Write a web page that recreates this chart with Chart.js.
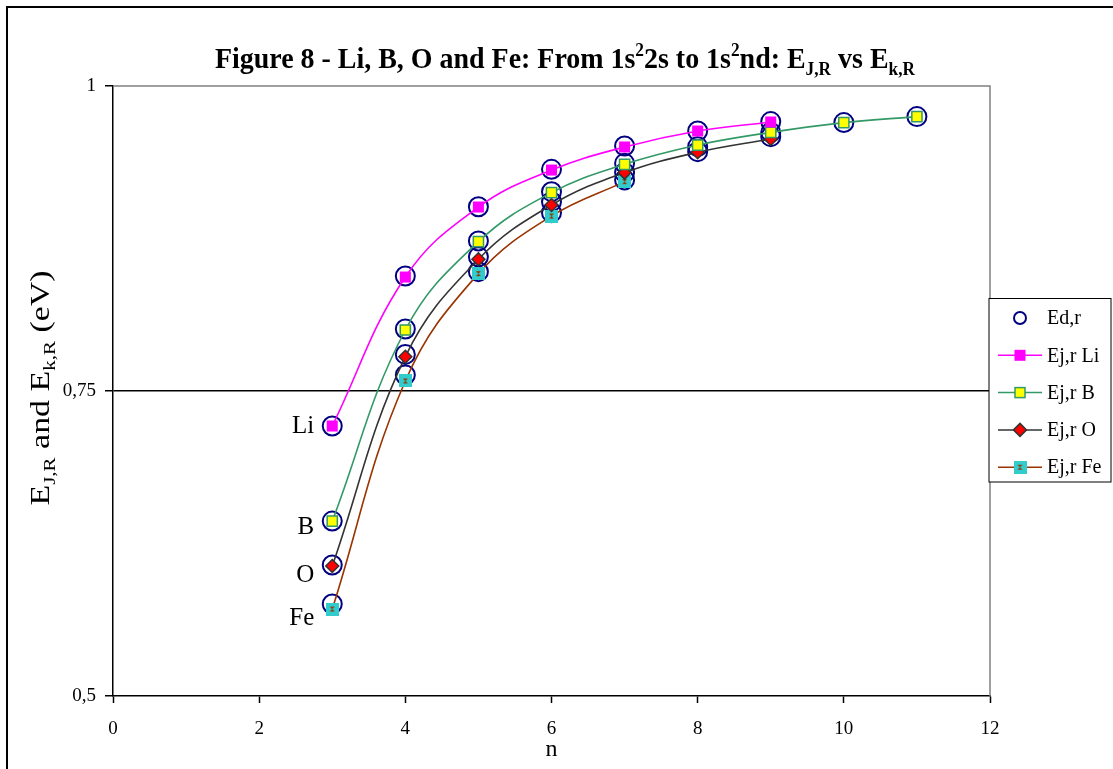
<!DOCTYPE html>
<html>
<head>
<meta charset="utf-8">
<script src="https://cdn.jsdelivr.net/npm/chart.js@4.4.0/dist/chart.umd.min.js"></script>
<style>
  html, body { margin: 0; padding: 0; background: #fff; }
</style>
</head>
<body>
<canvas id="chart" width="1113" height="769"></canvas>
<script>
// values
const elements = ['Li', 'B', 'O', 'Fe'];

const nLi = [3, 4, 5, 6, 7, 8, 9];
const ejLi = [0.7213, 0.8434, 0.9008, 0.9311, 0.9500, 0.9631, 0.9705];

const nB = [3, 4, 5, 6, 7, 8, 9, 10, 11];
const ejB = [0.6434, 0.8000, 0.8724, 0.9126, 0.9358, 0.9516, 0.9620, 0.9700, 0.9749];

const nO = [3, 4, 5, 6, 7, 8, 9];
const ejO = [0.6066, 0.7781, 0.8580, 0.9025, 0.9290, 0.9457, 0.9566];

const nFe = [3, 4, 5, 6, 7];
const ejFe = [0.5713, 0.7582, 0.8462, 0.8934, 0.9216];

// Ed,r (open circles)
const nEd = [3, 3, 3, 3, 4, 4, 4, 4, 5, 5, 5, 5, 6, 6, 6, 6, 7, 7, 7, 7, 8, 8, 8, 9, 9, 9, 10, 11];
const edVal = [0.7213, 0.6434, 0.6074, 0.5754,
               0.8443, 0.8008, 0.7800, 0.7631,
               0.9010, 0.8730, 0.8600, 0.8478,
               0.9317, 0.9134, 0.9052, 0.8962,
               0.9508, 0.9366, 0.9290, 0.9230,
               0.9631, 0.9503, 0.9462,
               0.9708, 0.9620, 0.9585,
               0.9700, 0.9749];

const xTicks = [0, 2, 4, 6, 8, 10, 12];
const yTicks = [0.5, 0.75, 1];

const FONT = '"Liberation Serif", "Times New Roman", serif';
Chart.defaults.font.family = FONT;
Chart.defaults.color = '#000';

function pts(xs, ys) {
    return xs.map((x, i) => ({ x: x, y: ys[i] }));
}

// Fe marker: cyan square with a small brown hourglass
function feMarker() {
    const c = document.createElement('canvas');
    c.width = 13; c.height = 13;
    const g = c.getContext('2d');
    g.fillStyle = '#33CCCC';
    g.fillRect(0, 0, 13, 13);
    g.fillStyle = '#993300';
    g.beginPath();
    g.moveTo(4, 4); g.lineTo(9, 4); g.lineTo(4, 9); g.lineTo(9, 9); g.closePath();
    g.fill();
    return c;
}
const feImg = feMarker();

// text with sub/superscripts
function richWidth(ctx, parts, size, weight) {
    let w = 0;
    parts.forEach(p => {
        ctx.font = `${weight} ${p.s ? size * 0.62 : size}px ${FONT}`;
        w += ctx.measureText(p.t).width;
    });
    return w;
}
function drawRich(ctx, parts, x, y, size, weight) {
    let cx = x;
    parts.forEach(p => {
        ctx.font = `${weight} ${p.s ? size * 0.62 : size}px ${FONT}`;
        const dy = p.s === 'sub' ? size * 0.22 : p.s === 'sup' ? -size * 0.4 : 0;
        ctx.fillText(p.t, cx, y + dy);
        cx += ctx.measureText(p.t).width;
    });
}

const titleParts = [
    { t: 'Figure 8 - Li, B, O and Fe: From 1s' }, { t: '2', s: 'sup' },
    { t: '2s to 1s' }, { t: '2', s: 'sup' }, { t: 'nd: E' }, { t: 'J,R', s: 'sub' },
    { t: ' vs E' }, { t: 'k,R', s: 'sub' }
];
const yTitleParts = [
    { t: 'E' }, { t: 'J,R', s: 'sub' }, { t: ' and E' }, { t: 'k,R', s: 'sub' }, { t: ' (eV)' }
];

const legendItems = [
    { label: 'Ed,r', kind: 'ed' },
    { label: 'Ej,r Li', kind: 'li', line: '#FF00FF' },
    { label: 'Ej,r B', kind: 'b', line: '#339966' },
    { label: 'Ej,r O', kind: 'o', line: '#333333' },
    { label: 'Ej,r Fe', kind: 'fe', line: '#993300' }
];

function drawMarker(ctx, kind, x, y) {
    ctx.save();
    if (kind === 'ed') {
        ctx.strokeStyle = '#000080'; ctx.lineWidth = 2;
        ctx.beginPath(); ctx.arc(x, y, 6, 0, Math.PI * 2); ctx.stroke();
    } else if (kind === 'li') {
        ctx.fillStyle = '#FF00FF'; ctx.fillRect(x - 5.5, y - 5.5, 11, 11);
    } else if (kind === 'b') {
        ctx.fillStyle = '#FFFF00'; ctx.strokeStyle = '#339966'; ctx.lineWidth = 1.5;
        ctx.fillRect(x - 5, y - 5, 10, 10); ctx.strokeRect(x - 5, y - 5, 10, 10);
    } else if (kind === 'o') {
        ctx.fillStyle = '#FF0000'; ctx.strokeStyle = '#333333'; ctx.lineWidth = 1.5;
        ctx.beginPath();
        ctx.moveTo(x - 6.5, y); ctx.lineTo(x, y - 6.5); ctx.lineTo(x + 6.5, y); ctx.lineTo(x, y + 6.5);
        ctx.closePath(); ctx.fill(); ctx.stroke();
    } else if (kind === 'fe') {
        ctx.drawImage(feImg, x - 6.5, y - 6.5);
    }
    ctx.restore();
}

const decorations = {
    id: 'decorations',
    afterDraw(chart) {
        const ctx = chart.ctx;
        const a = chart.chartArea;
        const xs = chart.scales.x, ys = chart.scales.y;
        ctx.save();

        // outer frame
        ctx.strokeStyle = '#000'; ctx.lineWidth = 2;
        ctx.strokeRect(7, 7, 1120, 780);

        // plot area border, top and right
        ctx.strokeStyle = '#808080'; ctx.lineWidth = 1.5;
        ctx.beginPath();
        ctx.moveTo(a.left, a.top); ctx.lineTo(a.right, a.top); ctx.lineTo(a.right, a.bottom);
        ctx.stroke();

        ctx.fillStyle = '#000';
        ctx.textBaseline = 'alphabetic';

        // title, condensed to the original width
        let w = richWidth(ctx, titleParts, 30, 'bold');
        ctx.save();
        ctx.translate(215, 68);
        ctx.scale(700 / w, 1);
        drawRich(ctx, titleParts, 0, 0, 30, 'bold');
        ctx.restore();

        // y axis title
        w = richWidth(ctx, yTitleParts, 28, 'normal');
        ctx.save();
        ctx.translate(49, 388);
        ctx.rotate(-Math.PI / 2);
        ctx.scale(235 / w, 1);
        drawRich(ctx, yTitleParts, -w / 2, 0, 28, 'normal');
        ctx.restore();

        // x axis title
        ctx.font = `24px ${FONT}`;
        ctx.textAlign = 'center';
        ctx.fillText('n', (a.left + a.right) / 2, 756);

        // element labels next to first point of each series
        const firsts = [ejLi[0], ejB[0], ejO[0], ejFe[0]];
        const firstN = [nLi[0], nB[0], nO[0], nFe[0]];
        const dy = [7, 13, 16, 16];
        ctx.font = `25px ${FONT}`;
        ctx.textAlign = 'right';
        elements.forEach((el, i) => {
            ctx.fillText(el, xs.getPixelForValue(firstN[i]) - 18, ys.getPixelForValue(firsts[i]) + dy[i]);
        });

        // legend
        ctx.fillStyle = '#fff';
        ctx.fillRect(989, 298.5, 122, 183.5);
        ctx.strokeStyle = '#000'; ctx.lineWidth = 1;
        ctx.strokeRect(989, 298.5, 122, 183.5);
        ctx.font = `20px ${FONT}`;
        ctx.textAlign = 'left';
        ctx.textBaseline = 'middle';
        legendItems.forEach((it, i) => {
            const y = 318 + i * 37.3;
            if (it.line) {
                ctx.strokeStyle = it.line; ctx.lineWidth = 1.5;
                ctx.beginPath(); ctx.moveTo(998, y); ctx.lineTo(1042, y); ctx.stroke();
            }
            drawMarker(ctx, it.kind, 1020, y);
            ctx.fillStyle = '#000';
            ctx.fillText(it.label, 1047, y + 1);
        });

        ctx.restore();
    }
};

const lineDefaults = { showLine: true, tension: 0.4, borderWidth: 1.6, fill: false };

new Chart(document.getElementById('chart'), {
    type: 'scatter',
    data: {
        datasets: [
            Object.assign({ label: 'Ej,r Li', data: pts(nLi, ejLi), borderColor: '#FF00FF',
                backgroundColor: '#FF00FF', pointStyle: 'rect', pointRadius: 7.8, pointBorderWidth: 0 }, lineDefaults),
            Object.assign({ label: 'Ej,r B', data: pts(nB, ejB), borderColor: '#339966',
                backgroundColor: '#FFFF00', pointBorderColor: '#339966', pointStyle: 'rect', pointRadius: 7.2,
                pointBorderWidth: 1.5 }, lineDefaults),
            Object.assign({ label: 'Ej,r O', data: pts(nO, ejO), borderColor: '#333333',
                backgroundColor: '#FF0000', pointBorderColor: '#333333', pointStyle: 'rectRot', pointRadius: 6.5,
                pointBorderWidth: 1.5 }, lineDefaults),
            Object.assign({ label: 'Ej,r Fe', data: pts(nFe, ejFe), borderColor: '#993300',
                backgroundColor: '#33CCCC', pointStyle: feImg, pointRadius: 6.5 }, lineDefaults),
            { label: 'Ed,r', data: pts(nEd, edVal), showLine: false, pointStyle: 'circle',
              pointRadius: 9.5, pointBorderWidth: 2, borderColor: '#000080', backgroundColor: 'rgba(0,0,0,0)' }
        ]
    },
    options: {
        responsive: false,
        animation: false,
        events: [],
        layout: { padding: { top: 86, right: 123, left: 0, bottom: 0 } },
        plugins: { legend: { display: false }, title: { display: false }, tooltip: { enabled: false } },
        scales: {
            x: {
                type: 'linear', min: 0, max: 12,
                afterBuildTicks: s => { s.ticks = xTicks.map(v => ({ value: v })); },
                afterFit: s => { s.height = 73; },
                grid: { color: 'rgba(0,0,0,0)', tickColor: '#000', tickLength: 7, tickWidth: 1.5 },
                border: { color: '#000', width: 1.5 },
                ticks: { font: { size: 19 }, color: '#000', padding: 15, maxRotation: 0 }
            },
            y: {
                type: 'linear', min: 0.5, max: 1,
                afterBuildTicks: s => { s.ticks = yTicks.map(v => ({ value: v })); },
                afterFit: s => { s.width = 113; },
                grid: {
                    color: c => (c.tick && c.tick.value === 0.75) ? '#000' : 'rgba(0,0,0,0)',
                    tickColor: '#000', tickLength: 8, tickWidth: 1.5, lineWidth: 1.5
                },
                border: { color: '#000', width: 1.5 },
                ticks: { font: { size: 19 }, color: '#000', padding: 9,
                    callback: v => String(v).replace('.', ',') }
            }
        }
    },
    plugins: [decorations]
});
</script>
</body>
</html>
